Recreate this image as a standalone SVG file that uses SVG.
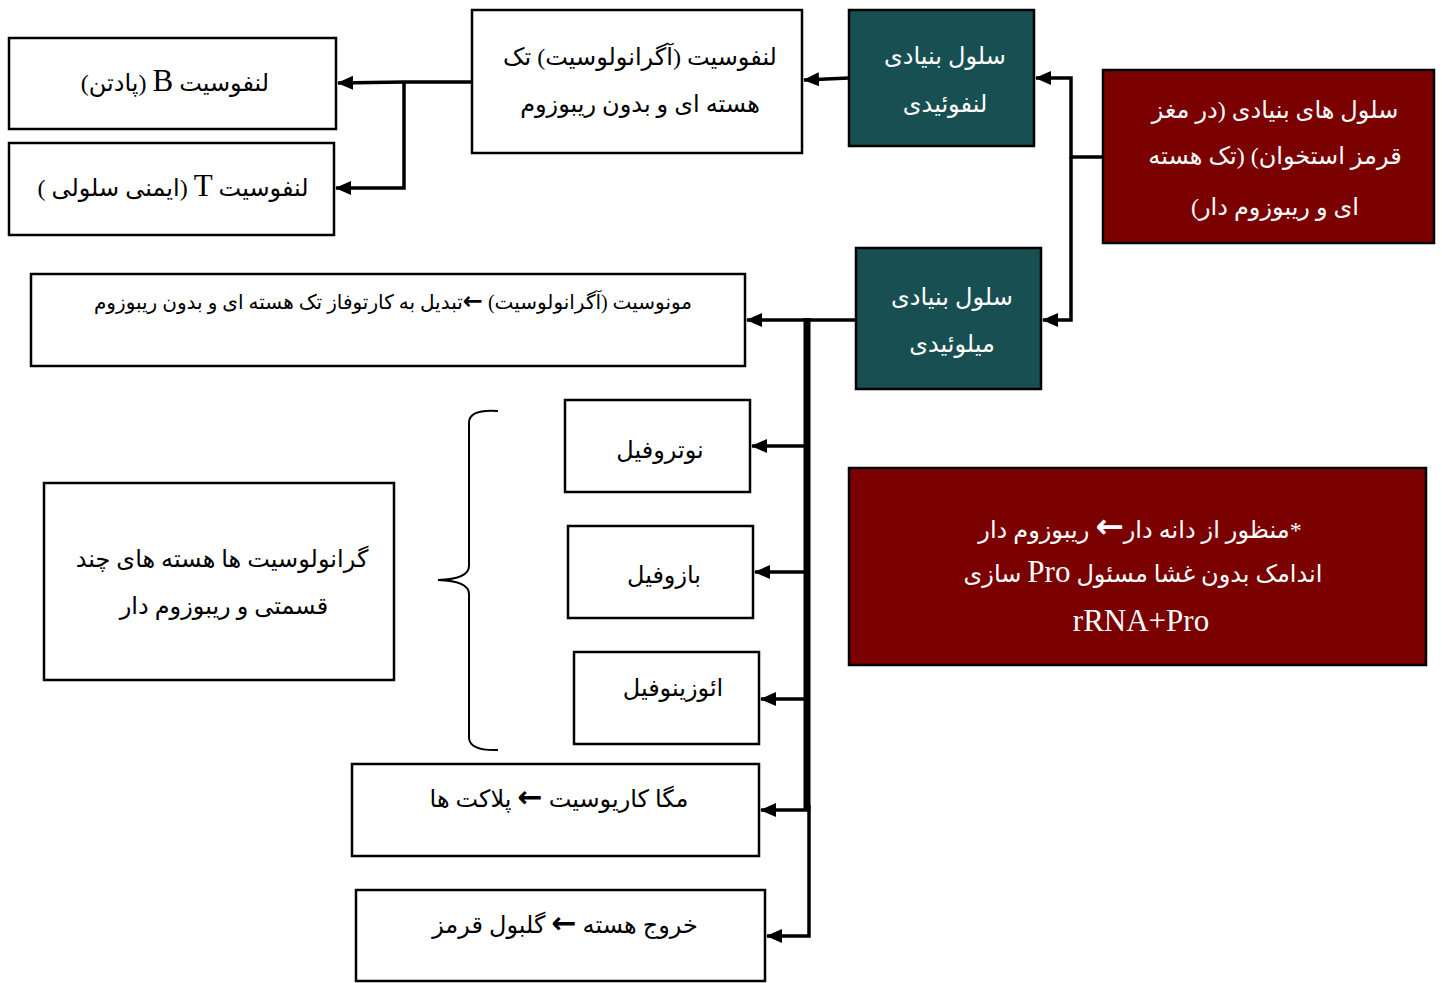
<svg xmlns="http://www.w3.org/2000/svg" width="1442" height="983" viewBox="0 0 1442 983">
<style>
.box{fill:#fff;stroke:#000;stroke-width:2.5}
.teal{fill:#174f52;stroke:#000;stroke-width:2.5}
.red{fill:#7b0000;stroke:#000;stroke-width:2.5}
text{font-family:"Liberation Serif","DejaVu Sans",serif;font-size:24px;text-anchor:middle;direction:rtl;fill:#000}
.w{fill:#fff}
.sm{font-size:20px}
tspan.lat{font-size:31px}
tspan.arr{font-family:"DejaVu Sans",sans-serif;font-size:30px;font-weight:bold}
.ln{fill:none;stroke:#000;stroke-width:3.5}
</style>
<defs>
<marker id="ah" markerUnits="userSpaceOnUse" markerWidth="16" markerHeight="14" refX="15" refY="7" orient="auto">
<path d="M0,0 L16,7 L0,14 Z" fill="#000"/>
</marker>
</defs>
<rect width="1442" height="983" fill="#fff"/>
<g id="connectors">
<path class="ln" d="M1103,157 H1071 V78 H1036" marker-end="url(#ah)"/>
<path class="ln" d="M1071,157 V320 H1043" marker-end="url(#ah)"/>
<path class="ln" d="M849,78 L804,80" marker-end="url(#ah)"/>
<path class="ln" d="M472,82 H404 L338,83" marker-end="url(#ah)"/>
<path class="ln" d="M404,83 V188 H336" marker-end="url(#ah)"/>
<path class="ln" d="M856,320 H747" marker-end="url(#ah)"/>
<path fill="none" stroke="#000" stroke-width="7" d="M807,318 V810"/>
<path class="ln" d="M809,805 V936 H767" marker-end="url(#ah)"/>
<path class="ln" d="M805,446 H752" marker-end="url(#ah)"/>
<path class="ln" d="M805,572 H755" marker-end="url(#ah)"/>
<path class="ln" d="M805,699 H761" marker-end="url(#ah)"/>
<path class="ln" d="M809,810 H761" marker-end="url(#ah)"/>
<path fill="none" stroke="#000" stroke-width="2" d="M498,411 Q470,409 469,422 V566 Q469,579 438,580 Q469,581 469,594 V738 Q470,751 498,750"/>
</g>
<g id="b-lymph"><rect class="box" x="9" y="38" width="327" height="91"/><text x="175" y="91">لنفوسیت <tspan class="lat">B</tspan> (پادتن)</text></g>
<g id="t-lymph"><rect class="box" x="9" y="143" width="325" height="92"/><text x="173" y="196">لنفوسیت <tspan class="lat">T</tspan> (ایمنی سلولی )</text></g>
<g id="lymphocyte"><rect class="box" x="472" y="10" width="330" height="143"/><text x="640" y="65">لنفوسیت (آگرانولوسیت) تک</text><text x="640" y="112">هسته ای و بدون ریبوزوم</text></g>
<g id="lymphoid"><rect class="teal" x="849" y="10" width="185" height="136"/><text class="w" x="945" y="64">سلول بنیادی</text><text class="w" x="945" y="112">لنفوئیدی</text></g>
<g id="stem"><rect class="red" x="1103" y="70" width="331" height="173"/><text class="w" x="1275" y="118">سلول های بنیادی (در مغز</text><text class="w" x="1275" y="164">قرمز استخوان)  (تک هسته</text><text class="w" x="1275" y="215">ای و ریبوزوم دار)</text></g>
<g id="myeloid"><rect class="teal" x="856" y="248" width="185" height="141"/><text class="w" x="952" y="305">سلول بنیادی</text><text class="w" x="952" y="352">میلوئیدی</text></g>
<g id="monocyte"><rect class="box" x="31" y="274" width="714" height="92"/><text class="sm" x="393" y="309">مونوسیت (آگرانولوسیت) <tspan class="arr" style="font-size:24px">←</tspan>تبدیل به کارتوفاز تک هسته ای و بدون ریبوزوم</text></g>
<g id="neutrophil"><rect class="box" x="565" y="400" width="185" height="92"/><text x="660" y="458">نوتروفیل</text></g>
<g id="basophil"><rect class="box" x="568" y="526" width="185" height="92"/><text x="664" y="583">بازوفیل</text></g>
<g id="eosinophil"><rect class="box" x="574" y="652" width="185" height="92"/><text x="673" y="696">ائوزینوفیل</text></g>
<g id="megakaryocyte"><rect class="box" x="352" y="764" width="407" height="92"/><text x="559" y="807">مگا کاریوسیت <tspan class="arr">←</tspan> پلاکت ها</text></g>
<g id="rbc"><rect class="box" x="356" y="890" width="409" height="91"/><text x="565" y="933">خروج هسته <tspan class="arr">←</tspan> گلبول قرمز</text></g>
<g id="granulocyte"><rect class="box" x="44" y="483" width="350" height="197"/><text x="222" y="567">گرانولوسیت ها هسته های چند</text><text x="224" y="614">قسمتی و ریبوزوم دار</text></g>
<g id="note"><rect class="red" x="849" y="468" width="577" height="197"/><text class="w" x="1140" y="538">*منظور از دانه دار<tspan class="arr" style="font-size:34px">←</tspan> ریبوزوم دار</text><text class="w" x="1143" y="582">اندامک بدون غشا مسئول <tspan class="lat">Pro</tspan> سازی</text><text class="w" x="1141" y="631" style="font-size:31px">rRNA+Pro</text></g>
</svg>
